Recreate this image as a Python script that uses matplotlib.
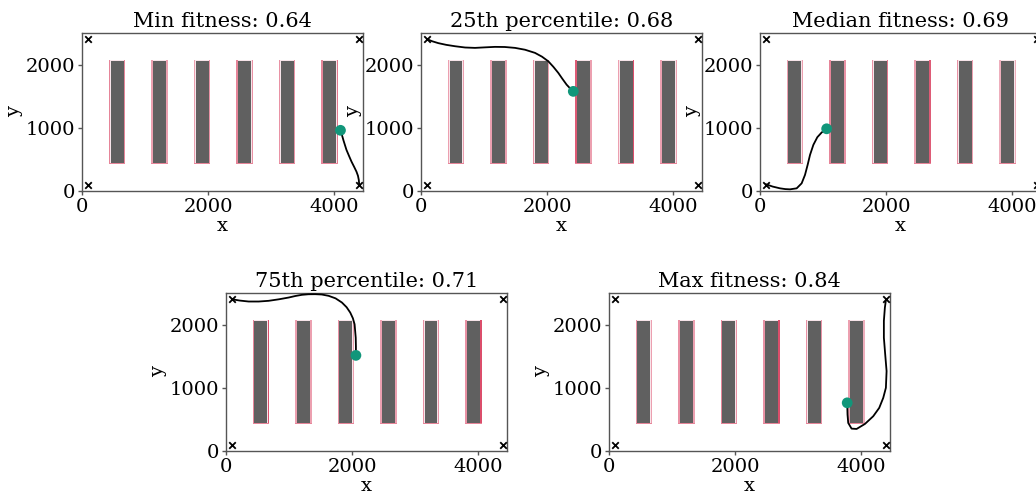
import matplotlib.pyplot as plt
from matplotlib.patches import Rectangle

plt.rcParams['font.family'] = ['DejaVu Serif']
plt.rcParams['font.size'] = 14

# warehouse layout
rack_x = [425, 1100, 1775, 2450, 3125, 3800]
rack_w = 260
rack_y0, rack_y1 = 420, 2070
corner_x = [100, 100, 4400, 4400]
corner_y = [100, 2400, 100, 2400]

# pick-face shading per rack (left side, right side), 0 = faint, 1 = strong
face_shade = [
    [(0.5, 0.5), (0.3, 0.3), (0.3, 0.4), (0.5, 0.4), (0.4, 0.4), (0.5, 0.6)],
    [(0.3, 0.3), (0.3, 0.3), (0.4, 0.3), (0.8, 0.3), (0.3, 0.9), (0.3, 0.3)],
    [(0.3, 0.3), (0.5, 0.4), (0.4, 0.6), (0.3, 0.8), (0.4, 0.3), (0.2, 0.2)],
    [(0.5, 0.9), (0.3, 0.3), (0.4, 0.3), (0.3, 0.3), (0.4, 0.4), (0.4, 0.9)],
    [(0.4, 0.3), (0.4, 0.3), (0.5, 0.4), (0.4, 0.9), (0.4, 0.4), (0.3, 0.2)],
]

titles = ['Min fitness: 0.64', '25th percentile: 0.68', 'Median fitness: 0.69',
          '75th percentile: 0.71', 'Max fitness: 0.84']

# robot paths, from the green start point to the corner marker
path_min_x = [4102, 4120, 4150, 4197, 4240, 4277, 4320, 4356, 4380, 4393, 4400]
path_min_y = [960, 905, 800, 651, 550, 465, 380, 306, 240, 175, 100]
path_p25_x = [2417, 2360, 2311, 2240, 2179, 2100, 2020, 1920, 1809, 1650, 1492,
              1330, 1174, 1010, 857, 700, 540, 400, 275, 180, 100]
path_p25_y = [1576, 1630, 1682, 1780, 1868, 1965, 2052, 2125, 2185, 2235, 2264,
              2278, 2280, 2272, 2264, 2270, 2290, 2312, 2339, 2368, 2400]
path_med_x = [1058, 979, 910, 847, 794, 756, 714, 661, 582, 476, 400, 317, 200, 95]
path_med_y = [984, 926, 851, 730, 571, 413, 254, 121, 42, 26, 30, 42, 70, 106]
path_p75_x = [2063, 2063, 2060, 2042, 2015, 1973, 1915, 1841, 1740, 1630, 1520, 1417,
              1310, 1206, 1100, 995, 840, 677, 520, 360, 220, 100]
path_p75_y = [1513, 1650, 1794, 2005, 2100, 2190, 2275, 2349, 2415, 2455, 2476, 2481,
              2480, 2471, 2452, 2428, 2400, 2376, 2365, 2365, 2380, 2400]
path_max_x = [3782, 3787, 3798, 3851, 3931, 4063, 4195, 4290, 4354, 4396, 4407,
              4385, 4364, 4364, 4380, 4396]
path_max_y = [762, 576, 444, 354, 349, 428, 550, 682, 841, 1000, 1264,
              1529, 1793, 2058, 2269, 2386]

paths = [(path_min_x, path_min_y), (path_p25_x, path_p25_y), (path_med_x, path_med_y),
         (path_p75_x, path_p75_y), (path_max_x, path_max_y)]

positions = [
    [0.0792, 0.6188, 0.2712, 0.3154],
    [0.4064, 0.6188, 0.2712, 0.3154],
    [0.7336, 0.6188, 0.2712, 0.3154],
    [0.2181, 0.0998, 0.2712, 0.3154],
    [0.5878, 0.0998, 0.2712, 0.3154],
]

light = '#f4c9d3'
strong = '#d8405f'


def mix(t):
    # blend from light pink to crimson
    a = [int(light[i:i + 2], 16) for i in (1, 3, 5)]
    b = [int(strong[i:i + 2], 16) for i in (1, 3, 5)]
    return tuple(((1 - t) * a[k] + t * b[k]) / 255 for k in range(3))


fig = plt.figure(figsize=(10.36, 5.01), dpi=100)

for i in range(5):
    ax = fig.add_axes(positions[i])
    for j, rx in enumerate(rack_x):
        ls, rs = face_shade[i][j]
        h = rack_y1 - rack_y0
        ax.add_patch(Rectangle((rx, rack_y0), rack_w, h,
                               facecolor='#f7e4e9', edgecolor='none', zorder=1))
        ax.add_patch(Rectangle((rx, rack_y0), 20, h,
                               facecolor=mix(ls), edgecolor='none', zorder=1))
        ax.add_patch(Rectangle((rx + rack_w - 20, rack_y0), 20, h,
                               facecolor=mix(rs), edgecolor='none', zorder=1))
        ax.add_patch(Rectangle((rx, rack_y0), rack_w, 22,
                               facecolor=mix(0.5), edgecolor='none', zorder=1))
        ax.add_patch(Rectangle((rx + 27, rack_y0 + 25), rack_w - 54, h - 45,
                               facecolor='#606060', edgecolor='none', zorder=2))
    px, py = paths[i]
    ax.plot(px, py, color='black', lw=1.3, zorder=3, solid_joinstyle='round')
    ax.scatter(corner_x, corner_y, marker='x', color='black', s=22, linewidths=1.3, zorder=4)
    ax.scatter(px[0], py[0], color='#11967a', s=60, zorder=5, edgecolors='none')
    ax.set_xlim(0, 4460)
    ax.set_ylim(0, 2500)
    ax.set_xticks([0, 2000, 4000])
    ax.set_yticks([0, 1000, 2000])
    ax.set_xlabel('x', labelpad=1)
    ax.set_ylabel('y', labelpad=2)
    ax.set_title(titles[i], fontsize=15, pad=4)
    for s in ax.spines.values():
        s.set_color('#555555')
        s.set_linewidth(1.0)
    ax.tick_params(length=3, width=1, color='#555555', pad=2)

plt.savefig('out.png', dpi=100)
